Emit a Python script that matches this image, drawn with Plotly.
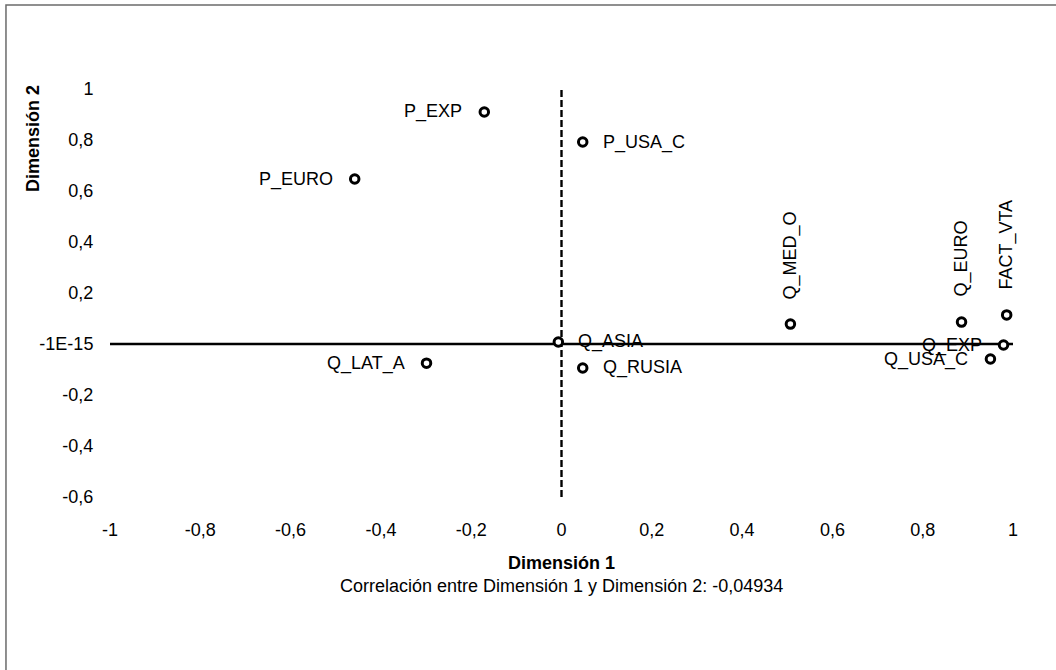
import plotly.graph_objects as go

# Data
labels = ["P_EXP", "P_USA_C", "P_EURO", "Q_MED_O", "Q_EURO", "FACT_VTA",
          "Q_EXP", "Q_USA_C", "Q_ASIA", "Q_LAT_A", "Q_RUSIA"]
dim1 = [-0.171, 0.047, -0.458, 0.507, 0.886, 0.986, 0.979, 0.950, -0.007, -0.299, 0.047]
dim2 = [0.910, 0.792, 0.647, 0.078, 0.086, 0.114, -0.004, -0.059, 0.008, -0.075, -0.094]
label_side = ["left", "right", "left", "above", "above", "above",
              "left", "left", "right", "left", "right"]

x_tickvals = [-1, -0.8, -0.6, -0.4, -0.2, 0, 0.2, 0.4, 0.6, 0.8, 1]
x_ticktext = ["-1", "-0,8", "-0,6", "-0,4", "-0,2", "0", "0,2", "0,4", "0,6", "0,8", "1"]
y_tickvals = [-0.6, -0.4, -0.2, 0, 0.2, 0.4, 0.6, 0.8, 1]
y_ticktext = ["-0,6", "-0,4", "-0,2", "-1E-15", "0,2", "0,4", "0,6", "0,8", "1"]

x_title = "Dimensión 1"
y_title = "Dimensión 2"
subtitle = "Correlación entre Dimensión 1 y Dimensión 2: -0,04934"

FONT = "Liberation Sans, Arial, sans-serif"
FS = 18

fig = go.Figure()

fig.add_trace(go.Scatter(
    x=dim1, y=dim2, mode="markers",
    marker=dict(symbol="circle", size=8.5, color="white",
                line=dict(color="black", width=3)),
    hoverinfo="text", text=labels, showlegend=False,
))

annotations = []
for lab, xv, yv, side in zip(labels, dim1, dim2, label_side):
    a = dict(x=xv, y=yv, xref="x", yref="y", text=lab, showarrow=False,
             font=dict(family=FONT, size=FS, color="black"))
    if side == "left":
        a.update(xanchor="right", yanchor="middle", xshift=-20)
    elif side == "right":
        a.update(xanchor="left", yanchor="middle", xshift=18)
    else:
        a.update(textangle=-90, xanchor="center", yanchor="bottom", yshift=23)
    annotations.append(a)

annotations.append(dict(x=0.5, y=-0.162, xref="paper", yref="paper", text="<b>" + x_title + "</b>",
                        showarrow=False, xanchor="center", yanchor="middle",
                        font=dict(family=FONT, size=FS, color="black")))
annotations.append(dict(x=0.5, y=-0.217, xref="paper", yref="paper", text=subtitle,
                        showarrow=False, xanchor="center", yanchor="middle",
                        font=dict(family=FONT, size=FS, color="black")))
annotations.append(dict(x=-0.0853, y=0.88, xref="paper", yref="paper", text="<b>" + y_title + "</b>",
                        showarrow=False, textangle=-90, xanchor="center", yanchor="middle",
                        font=dict(family=FONT, size=FS, color="black")))

shapes = [
    # horizontal axis line at y = 0 (solid)
    dict(type="line", xref="x", yref="y", x0=-1, x1=1, y0=0, y1=0,
         line=dict(color="black", width=2.4), layer="below"),
    # vertical axis line at x = 0 (dashed)
    dict(type="line", xref="x", yref="y", x0=0, x1=0, y0=-0.6, y1=1,
         line=dict(color="black", width=2.4, dash="7px,3px"), layer="below"),
    # chart-area border
    dict(type="rect", xref="paper", yref="paper", x0=-0.1152, x1=1.2, y0=-0.6, y1=1.2059,
         line=dict(color="#6b6b6b", width=1.5), fillcolor="rgba(0,0,0,0)", layer="below"),
]

fig.update_layout(
    width=1056, height=670,
    margin=dict(l=110, r=43, t=89, b=173, pad=0),
    paper_bgcolor="white", plot_bgcolor="white",
    font=dict(family=FONT, size=FS, color="black"),
    xaxis=dict(range=[-1, 1], tickvals=x_tickvals, ticktext=x_ticktext,
               showgrid=False, zeroline=False, showline=False,
               ticks="outside", ticklen=16, tickcolor="rgba(0,0,0,0)",
               tickfont=dict(family=FONT, size=FS, color="black")),
    yaxis=dict(range=[-0.6, 1], tickvals=y_tickvals, ticktext=y_ticktext,
               showgrid=False, zeroline=False, showline=False,
               ticks="outside", ticklen=12, tickcolor="rgba(0,0,0,0)",
               tickfont=dict(family=FONT, size=FS, color="black")),
    annotations=annotations,
    shapes=shapes,
)

# remove the default page margin so the figure sits at the window's top-left corner
fig.write_html("out.html", config={"displayModeBar": False},
               post_script="document.body.style.margin='0px';")
